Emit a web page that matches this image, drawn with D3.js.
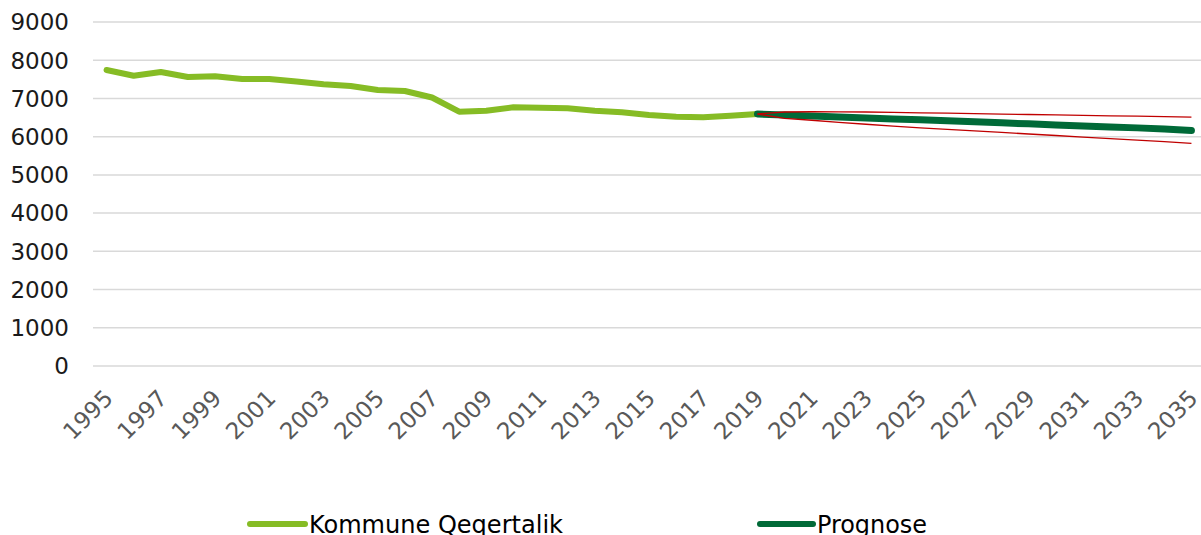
<!DOCTYPE html>
<html>
<head>
<meta charset="utf-8">
<script src="https://cdn.jsdelivr.net/npm/d3@7"></script>
<style>
  body { margin: 0; background: #fff; }
  svg { display: block; font-family: "DejaVu Sans", Verdana, sans-serif; }
</style>
</head>
<body>
<svg id="chart" width="1201" height="535"></svg>
<script>
// data
const years = d3.range(1995, 2036);
const histYears = d3.range(1995, 2020);
const kommune = [7744, 7595, 7692, 7561, 7579, 7509, 7509, 7443, 7370, 7326,
                 7221, 7195, 7025, 6653, 6679, 6768, 6758, 6742, 6679, 6638,
                 6567, 6523, 6507, 6549, 6593];
const progYears = d3.range(2019, 2036);
const prognose = [6593, 6565, 6540, 6515, 6490, 6465, 6440, 6415, 6390,
                  6362, 6335, 6308, 6282, 6256, 6230, 6200, 6160];
const upper = [6593, 6645, 6652, 6650, 6645, 6635, 6625, 6615, 6605,
               6592, 6580, 6568, 6557, 6546, 6535, 6523, 6512];
const lower = [6593, 6480, 6430, 6375, 6325, 6275, 6230, 6190, 6150,
               6110, 6070, 6030, 5990, 5950, 5910, 5868, 5826];
const yTicks = [0, 1000, 2000, 3000, 4000, 5000, 6000, 7000, 8000, 9000];
const xTickYears = years.filter(y => (y - 1995) % 2 === 0);

const svg = d3.select("#chart");
const plotLeft = 93, plotRight = 1205, plotTop = 22, plotBottom = 366;

const x = d3.scalePoint()
  .domain(years)
  .range([plotLeft, plotRight])
  .padding(0.5);

const y = d3.scaleLinear()
  .domain([0, 9000])
  .range([plotBottom, plotTop]);

// gridlines
svg.append("g")
  .selectAll("line")
  .data(yTicks)
  .join("line")
  .attr("x1", plotLeft)
  .attr("x2", plotRight)
  .attr("y1", d => y(d))
  .attr("y2", d => y(d))
  .attr("stroke", "#d9d9d9")
  .attr("stroke-width", 1.5);

// y axis labels
svg.append("g")
  .selectAll("text")
  .data(yTicks)
  .join("text")
  .attr("x", 69)
  .attr("y", d => y(d))
  .attr("dy", "0.36em")
  .attr("text-anchor", "end")
  .attr("font-size", 23)
  .attr("fill", "#1a1a1a")
  .text(d => d);

// x axis labels
svg.append("g")
  .selectAll("text")
  .data(xTickYears)
  .join("text")
  .attr("transform", d => "translate(" + (x(d) - 4) + ",388) rotate(-45)")
  .attr("dy", "0.72em")
  .attr("text-anchor", "end")
  .attr("font-size", 23)
  .attr("fill", "#595959")
  .text(d => d);

const line = d3.line()
  .x(d => x(d[0]))
  .y(d => y(d[1]));

svg.append("path")
  .datum(d3.zip(histYears, kommune))
  .attr("d", line)
  .attr("fill", "none")
  .attr("stroke", "#86bc25")
  .attr("stroke-width", 6)
  .attr("stroke-linejoin", "round")
  .attr("stroke-linecap", "round");

svg.append("path")
  .datum(d3.zip(progYears, prognose))
  .attr("d", line)
  .attr("fill", "none")
  .attr("stroke", "#006a38")
  .attr("stroke-width", 7)
  .attr("stroke-linejoin", "round")
  .attr("stroke-linecap", "round");

[upper, lower].forEach(s => {
  svg.append("path")
    .datum(d3.zip(progYears, s))
    .attr("d", line)
    .attr("fill", "none")
    .attr("stroke", "#c00000")
    .attr("stroke-width", 1.3);
});

// legend
const legend = [
  { name: "Kommune Qeqertalik", color: "#86bc25", x1: 250, x2: 305, tx: 309, tw: 254 },
  { name: "Prognose", color: "#006a38", x1: 760, x2: 813, tx: 817, tw: 110 }
];
const lg = svg.append("g");
legend.forEach(l => {
  lg.append("line")
    .attr("x1", l.x1).attr("x2", l.x2)
    .attr("y1", 524).attr("y2", 524)
    .attr("stroke", l.color)
    .attr("stroke-width", 6)
    .attr("stroke-linecap", "round");
  lg.append("text")
    .attr("x", l.tx)
    .attr("y", 533)
    .attr("font-size", 25)
    .attr("font-family", "'DejaVu Sans Condensed', 'DejaVu Sans', sans-serif")
    .attr("textLength", l.tw)
    .attr("lengthAdjust", "spacingAndGlyphs")
    .attr("fill", "#000")
    .text(l.name);
});
</script>
</body>
</html>
